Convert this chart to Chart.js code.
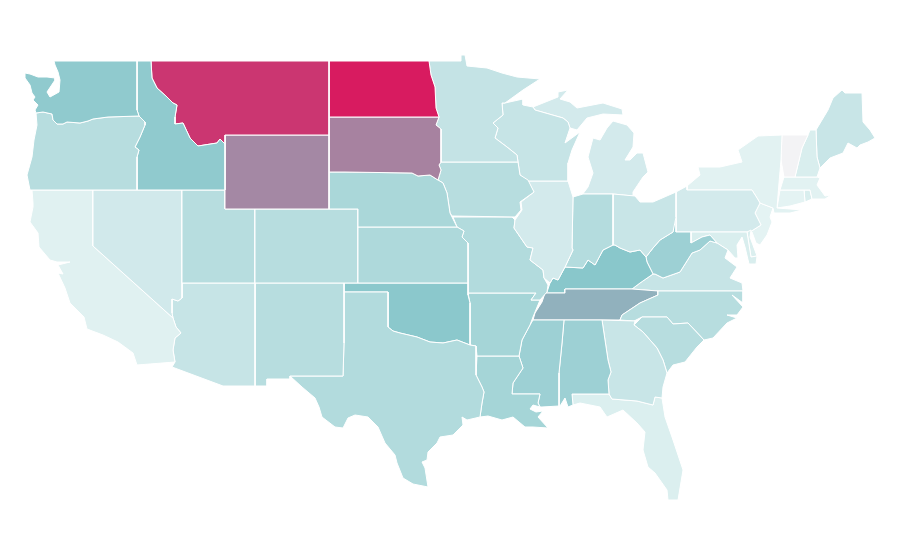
<!DOCTYPE html>
<html lang="en">
<head>
  <meta charset="UTF-8">
  <title>US states map</title>
  <style>
    html, body { margin: 0; padding: 0; background: #fff; }
    #wrap { width: 900px; height: 560px; }
  </style>
  <script src="https://cdn.jsdelivr.net/npm/chart.js"></script>
</head>
<body>
  <div id="wrap"><canvas id="mapChart" width="900" height="560"></canvas></div>

  <script>
    // state outlines, in map units (same size as the picture)
    const WA = [[54,61],[137,61],[137,110],[139,116],[108,117],[93,119],[88,121],[80,123],[67,122],[63,124],[57,124],[53,120],[52,114],[43,112],[36,113],[35,110],[38,105],[33,100],[35,97],[32,93],[30,85],[25,78],[25,73],[30,74],[38,77],[47,77],[55,78],[55,80],[53,83],[47,92],[50,97],[59,92],[60,80],[58,72],[55,65]];
    const OR = [[36,113],[43,112],[52,114],[53,120],[57,124],[63,124],[67,122],[80,123],[88,121],[93,119],[108,117],[139,116],[145,122],[145,125],[140,137],[135,147],[139,150],[137,157],[137,190],[30,190],[27,175],[32,157],[34,140],[37,125]];
    const ID = [[137,61],[151,61],[152,78],[157,88],[167,97],[173,103],[177,105],[175,117],[175,124],[183,123],[190,138],[198,146],[217,143],[220,139],[225,144],[225,190],[137,190],[137,157],[139,150],[135,147],[140,137],[145,125],[145,122],[139,116],[137,110]];
    const MT = [[151,61],[329,61],[329,135],[225,135],[225,144],[220,139],[217,143],[198,146],[190,138],[183,123],[175,124],[175,117],[177,105],[173,103],[167,97],[157,88],[152,78]];
    const WY = [[225,135],[329,135],[329,209],[225,209]];
    const ND = [[329,61],[429,61],[431,75],[435,87],[436,108],[439,117],[329,117]];
    const SD = [[329,117],[439,117],[436,125],[441,129],[441,162],[439,165],[441,170],[438,180],[430,175],[418,176],[412,173],[345,172],[329,172]];
    const NE = [[329,172],[345,172],[412,173],[418,176],[430,175],[438,180],[443,183],[447,193],[450,213],[457,227],[358,227],[358,209],[329,209]];
    const KS = [[358,227],[457,227],[464,231],[462,237],[468,243],[468,283],[358,283]];
    const CO = [[255,209],[358,209],[358,283],[255,283]];
    const UT = [[182,190],[225,190],[225,209],[255,209],[255,283],[182,283]];
    const NV = [[93,190],[182,190],[182,298],[178,301],[172,299],[172,313],[173,318],[93,246]];
    const CA = [[32,190],[93,190],[93,246],[173,318],[176,327],[181,333],[175,338],[173,350],[175,362],[137,365],[133,353],[118,342],[103,335],[87,329],[84,317],[70,303],[65,288],[58,273],[63,274],[58,265],[70,262],[57,262],[50,260],[39,247],[38,233],[30,222],[33,207],[33,203]];
    const AZ = [[182,283],[255,283],[255,386],[223,386],[172,367],[175,362],[173,350],[175,338],[181,333],[176,327],[173,318],[172,313],[172,299],[178,301],[182,298]];
    const NM = [[255,283],[344,283],[344,343],[343,376],[290,376],[290,379],[267,379],[267,386],[255,386]];
    const TX = [[344,292],[388,292],[388,327],[393,331],[400,333],[417,337],[430,342],[443,343],[457,340],[470,345],[476,346],[476,375],[482,387],[484,392],[482,403],[480,417],[467,420],[462,417],[463,425],[453,435],[440,437],[437,443],[428,452],[427,460],[422,462],[425,468],[428,487],[413,484],[403,478],[397,463],[395,455],[385,443],[378,427],[368,417],[355,415],[348,418],[343,428],[335,427],[322,417],[319,407],[315,398],[302,387],[290,376],[343,376],[344,343]];
    const OK = [[344,283],[468,283],[468,295],[470,303],[470,345],[457,340],[443,343],[430,342],[417,337],[400,333],[393,331],[388,327],[388,292],[344,292]];
    const MN = [[429,61],[461,61],[461,55],[465,55],[467,66],[487,68],[502,73],[517,77],[540,79],[523,90],[505,103],[502,103],[503,115],[493,123],[498,128],[495,138],[507,147],[517,155],[518,162],[441,162],[441,129],[436,125],[439,117],[436,108],[435,87],[431,75]];
    const IA = [[441,162],[518,162],[520,175],[528,180],[534,192],[520,202],[521,210],[515,217],[452,216],[450,213],[447,193],[443,183],[438,180],[441,170],[439,165]];
    const WI = [[505,103],[523,99],[523,105],[533,107],[535,110],[563,118],[568,122],[570,128],[565,143],[580,132],[572,150],[568,163],[568,181],[528,181],[520,175],[518,162],[517,155],[507,147],[495,138],[498,128],[493,123],[503,115],[502,103]];
    const IL = [[528,181],[568,181],[573,197],[572,248],[573,250],[565,267],[558,280],[553,278],[550,283],[544,278],[543,270],[530,260],[533,248],[527,247],[514,228],[515,220],[522,210],[521,202],[534,192]];
    const IN = [[573,197],[583,194],[613,194],[613,245],[603,250],[595,265],[588,260],[583,268],[565,267],[573,250],[572,248]];
    const OH = [[613,194],[635,196],[640,202],[653,202],[676,192],[676,217],[673,232],[660,240],[653,248],[646,257],[640,250],[630,252],[620,248],[615,245],[613,245]];
    const MI_LOWER = [[583,194],[613,194],[633,196],[633,192],[643,177],[648,172],[643,153],[637,153],[630,160],[625,160],[633,147],[634,133],[627,125],[613,121],[607,128],[600,140],[593,138],[588,157],[593,173],[588,187],[582,195]];
    const MI_UPPER = [[533,107],[558,97],[558,92],[568,90],[560,99],[570,102],[577,108],[603,103],[622,109],[623,115],[603,114],[587,118],[577,130],[570,128],[568,122],[563,118],[535,110]];
    const MO = [[453,217],[512,217],[515,220],[514,228],[527,247],[533,248],[530,260],[543,270],[544,278],[548,285],[547,292],[540,300],[531,300],[536,293],[468,293],[468,243],[462,237],[464,231],[457,227]];
    const AR = [[468,293],[536,293],[531,300],[540,300],[533,317],[530,325],[522,340],[519,356],[477,356],[476,346],[470,345],[470,303]];
    const LA = [[477,356],[519,356],[523,368],[513,383],[512,394],[540,394],[538,403],[540,407],[533,405],[530,409],[536,412],[543,411],[538,417],[548,428],[533,427],[525,427],[513,417],[502,420],[488,416],[480,417],[482,403],[484,392],[482,387],[476,375]];
    const MS = [[533,320],[564,320],[562,343],[559,373],[559,406],[542,407],[540,407],[538,403],[540,394],[512,394],[513,383],[523,368],[519,356],[522,340],[530,325]];
    const AL = [[564,320],[602,320],[608,360],[611,372],[608,380],[609,394],[572,394],[573,405],[568,407],[565,398],[560,406],[559,406],[559,373],[562,343]];
    const GA = [[602,320],[635,321],[634,325],[643,332],[657,348],[663,360],[667,373],[663,387],[662,398],[655,397],[653,405],[637,401],[612,399],[609,394],[608,380],[611,372],[608,360]];
    const FL = [[572,394],[609,394],[612,399],[637,401],[653,405],[655,397],[662,398],[665,417],[673,440],[683,470],[678,500],[668,500],[667,490],[655,473],[648,467],[643,450],[645,432],[637,423],[623,410],[607,417],[600,407],[580,403],[573,405]];
    const SC = [[634,325],[642,317],[667,317],[673,324],[688,323],[704,340],[697,347],[685,362],[673,365],[667,373],[663,360],[657,348],[643,332]];
    const NC = [[658,291],[743,291],[743,303],[732,295],[743,307],[737,315],[727,315],[737,318],[727,323],[713,338],[704,340],[688,323],[673,324],[667,317],[642,317],[634,321],[620,320],[622,315],[640,303],[658,295]];
    const TN = [[545,293],[565,293],[565,289],[632,289],[658,291],[658,295],[640,303],[622,315],[620,320],[533,320],[535,313],[542,302]];
    const KY = [[547,292],[550,283],[553,278],[558,280],[565,267],[583,268],[588,260],[595,265],[603,250],[613,245],[615,245],[620,248],[630,252],[640,250],[646,257],[647,262],[653,274],[640,283],[632,289],[565,289],[565,293],[545,293]];
    const WV = [[646,257],[653,248],[660,240],[673,232],[674,217],[676,217],[676,232],[691,232],[691,243],[702,237],[710,235],[717,243],[710,241],[700,250],[692,253],[680,272],[663,278],[655,274],[653,274],[647,262]];
    const VA = [[653,274],[655,274],[663,278],[680,272],[692,253],[700,250],[710,241],[717,243],[728,250],[725,258],[737,267],[730,278],[742,283],[743,291],[658,291],[632,289],[640,283]];
    const MD = [[691,232],[747,232],[751,257],[757,256],[756,264],[749,264],[745,247],[742,237],[737,245],[738,258],[735,258],[728,250],[717,243],[710,235],[702,237],[691,243]];
    const DE = [[747,232],[751,230],[750,237],[757,256],[751,257]];
    const PA = [[676,192],[687,186],[687,190],[752,190],[757,198],[760,203],[755,213],[761,225],[750,232],[676,232]];
    const NY = [[687,186],[687,190],[752,190],[757,198],[760,203],[773,208],[774,213],[790,213],[802,210],[790,209],[777,208],[779,183],[781,160],[782,135],[758,136],[738,150],[742,162],[720,167],[698,167],[700,175]];
    const NJ = [[760,203],[773,208],[770,217],[772,222],[767,235],[760,245],[756,243],[752,232],[750,232],[761,225],[755,213]];
    const VT = [[782,135],[808,135],[802,148],[795,177],[784,177],[781,160]];
    const NH = [[810,130],[816,130],[817,157],[820,168],[817,177],[795,177],[802,148],[808,135]];
    const ME = [[816,130],[828,110],[833,98],[842,90],[845,93],[862,93],[863,122],[870,130],[875,138],[868,142],[860,145],[857,148],[848,143],[843,153],[830,158],[820,168],[817,157]];
    const MA = [[784,177],[817,177],[820,178],[817,185],[825,196],[831,195],[825,199],[812,199],[810,190],[780,190]];
    const CT = [[780,190],[804,190],[805,202],[790,206],[777,208]];
    const RI = [[804,190],[810,190],[812,199],[805,202]];

    const outlines = [WA, OR, ID, MT, WY, ND, SD, NE, KS, CO, UT, NV, CA, AZ, NM, TX, OK, MN, IA, WI, IL, IN, OH, MI_LOWER, MI_UPPER, MO, AR, LA, MS, AL, GA, FL, SC, NC, TN, KY, WV, VA, MD, DE, PA, NY, NJ, VT, NH, ME, MA, CT, RI];
    const stateNames = ['Washington', 'Oregon', 'Idaho', 'Montana', 'Wyoming', 'North Dakota', 'South Dakota', 'Nebraska', 'Kansas', 'Colorado', 'Utah', 'Nevada', 'California', 'Arizona', 'New Mexico', 'Texas', 'Oklahoma', 'Minnesota', 'Iowa', 'Wisconsin', 'Illinois', 'Indiana', 'Ohio', 'Michigan', 'Michigan', 'Missouri', 'Arkansas', 'Louisiana', 'Mississippi', 'Alabama', 'Georgia', 'Florida', 'South Carolina', 'North Carolina', 'Tennessee', 'Kentucky', 'West Virginia', 'Virginia', 'Maryland', 'Delaware', 'Pennsylvania', 'New York', 'New Jersey', 'Vermont', 'New Hampshire', 'Maine', 'Massachusetts', 'Connecticut', 'Rhode Island'];
    const stateValues = [46, 28, 46, 92, 68, 100, 70, 34, 32, 28, 28, 16, 9, 21, 28, 30, 48, 22, 28, 21, 15, 29, 20, 15, 15, 30, 36, 36, 40, 40, 20, 11, 28, 28, 56, 49, 40, 21, 12, 11, 15, 8, 7, 0, 12, 20, 8, 7, 12];

    // colour scale: value -> colour
    const stopValues = [0, 1, 50, 100];
    const stopColors = [[243, 243, 245], [241, 249, 249], [135, 198, 202], [216, 27, 96]];

    function colorFor(v) {
      let i = 0;
      while (i < stopValues.length - 2 && v > stopValues[i + 1]) i++;
      const t = (v - stopValues[i]) / (stopValues[i + 1] - stopValues[i]);
      const c = stopColors[i].map((a, k) => Math.round(a + (stopColors[i + 1][k] - a) * t));
      return `rgb(${c[0]}, ${c[1]}, ${c[2]})`;
    }

    const datasets = outlines.map((shape, i) => ({
      label: stateNames[i],
      data: shape.concat([shape[0]]).map(p => ({ x: p[0], y: p[1] })),
      showLine: true,
      fill: 'shape',
      tension: 0,
      backgroundColor: colorFor(stateValues[i]),
      borderColor: '#ffffff',
      borderWidth: 1,
      pointRadius: 0,
      pointHoverRadius: 0
    }));

    new Chart(document.getElementById('mapChart'), {
      type: 'scatter',
      data: { datasets: datasets },
      options: {
        responsive: false,
        animation: false,
        layout: { padding: 0 },
        plugins: {
          legend: { display: false },
          tooltip: { enabled: false }
        },
        scales: {
          x: { type: 'linear', min: 0, max: 900, display: false },
          y: { type: 'linear', min: 0, max: 560, reverse: true, display: false }
        }
      }
    });
  </script>
</body>
</html>
